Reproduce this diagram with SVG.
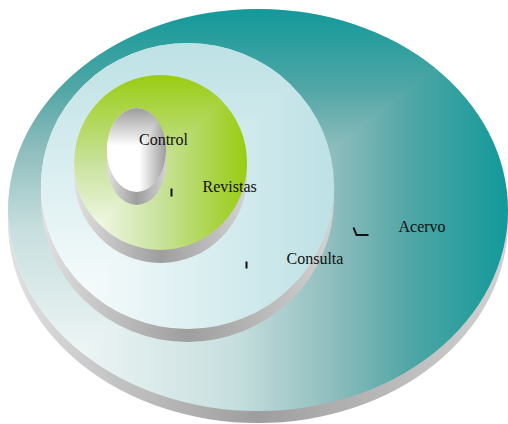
<svg xmlns="http://www.w3.org/2000/svg" width="508" height="424" viewBox="0 0 508 424">
<defs>
<clipPath id="upper" clipPathUnits="objectBoundingBox">
<polygon points="0,1 0,0 1,0"/>
</clipPath>
<linearGradient id="side" x1="0" y1="0" x2="1" y2="0">
<stop offset="0" stop-color="#e0e0e0"/>
<stop offset="0.5" stop-color="#9e9e9e"/>
<stop offset="1" stop-color="#d2d2d2"/>
</linearGradient>
<linearGradient id="hTeal" x1="0" y1="0" x2="1" y2="0">
<stop offset="0" stop-color="#ffffff"/>
<stop offset="0.45" stop-color="#c8dfdf"/>
<stop offset="0.65" stop-color="#8fbdbd"/>
<stop offset="0.8" stop-color="#52a6a6"/>
<stop offset="1" stop-color="#12999a"/>
</linearGradient>
<linearGradient id="vTeal" href="#hTeal" x1="0" y1="1" x2="0" y2="0"/>
<linearGradient id="hBlue" x1="0" y1="0" x2="1" y2="0">
<stop offset="0" stop-color="#ffffff"/>
<stop offset="0.75" stop-color="#cde8eb"/>
<stop offset="1" stop-color="#bde1e5"/>
</linearGradient>
<linearGradient id="vBlue" href="#hBlue" x1="0" y1="1" x2="0" y2="0"/>
<linearGradient id="hGreen" x1="0" y1="0" x2="1" y2="0">
<stop offset="0" stop-color="#ffffff"/>
<stop offset="0.5" stop-color="#c8e29c"/>
<stop offset="1" stop-color="#99cc11"/>
</linearGradient>
<linearGradient id="vGreen" href="#hGreen" x1="0" y1="1" x2="0" y2="0"/>
<linearGradient id="hGrey" x1="0" y1="0" x2="1" y2="0">
<stop offset="0" stop-color="#ffffff"/>
<stop offset="0.55" stop-color="#ffffff"/>
<stop offset="1" stop-color="#9c9c9c"/>
</linearGradient>
<linearGradient id="vGrey" href="#hGrey" x1="0" y1="1" x2="0" y2="0"/>
<style>
text{font-family:"Liberation Serif","Times New Roman",serif;font-size:16px;fill:#111}
.side{fill:url(#side)}
.up{clip-path:url(#upper)}
.mark{fill:none;stroke:#111;stroke-width:2}
</style>
</defs>
<g id="acervo">
<path class="side" d="M8,210 L8,222 A250,201 0 0 0 508,222 L508,210 Z"/>
<ellipse cx="258" cy="210" rx="250" ry="201" fill="url(#hTeal)"/>
<ellipse class="up" cx="258" cy="210" rx="250" ry="201" fill="url(#vTeal)"/>
<text x="398.5" y="232">Acervo</text>
</g>
<g id="consulta">
<path class="side" d="M41,186 L41,199 A146.5,143 0 0 0 334,199 L334,186 Z"/>
<ellipse cx="187.5" cy="186" rx="146.5" ry="143" fill="url(#hBlue)"/>
<ellipse class="up" cx="187.5" cy="186" rx="146.5" ry="143" fill="url(#vBlue)"/>
<text x="286.5" y="264">Consulta</text>
</g>
<g id="revistas">
<path class="side" d="M74,162.5 L74,175.5 A86.5,87.5 0 0 0 247,175.5 L247,162.5 Z"/>
<ellipse cx="160.5" cy="162.5" rx="86.5" ry="87.5" fill="url(#hGreen)"/>
<ellipse class="up" cx="160.5" cy="162.5" rx="86.5" ry="87.5" fill="url(#vGreen)"/>
<text x="202.5" y="192">Revistas</text>
</g>
<g id="control">
<path class="side" d="M107,150 L107,163 A29.5,42 0 0 0 166,163 L166,150 Z"/>
<ellipse cx="136.5" cy="150" rx="29.5" ry="42" fill="url(#hGrey)"/>
<ellipse class="up" cx="136.5" cy="150" rx="29.5" ry="42" fill="url(#vGrey)"/>
<text x="139" y="145">Control</text>
</g>
<g id="connectors">
<path class="mark" d="M171.5,188.5 V196.5"/>
<path class="mark" d="M246.5,261.5 V268.5"/>
<path class="mark" d="M353.5,227.5 L356.5,235 H368.5"/>
</g>
</svg>
